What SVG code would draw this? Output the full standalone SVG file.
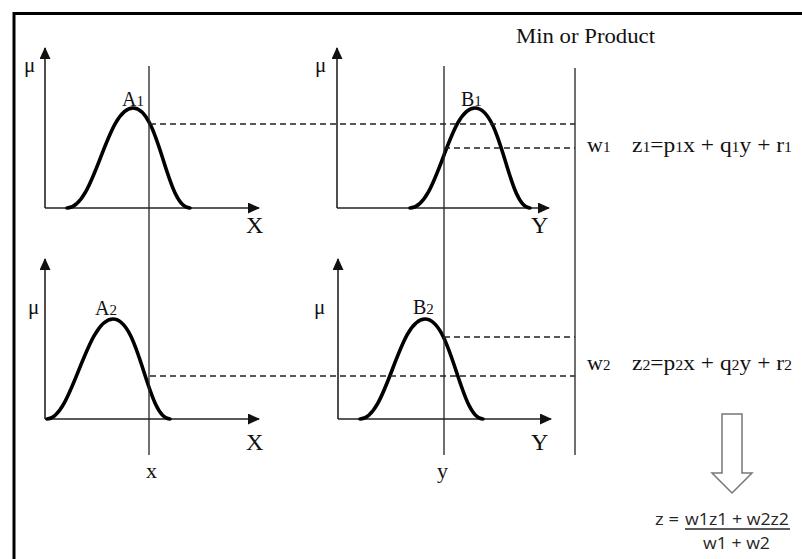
<svg xmlns="http://www.w3.org/2000/svg" width="802" height="559" viewBox="0 0 802 559">
<defs>
<style>
.frame{fill:none;stroke:#000;stroke-width:3}
.axis{fill:none;stroke:#222;stroke-width:1.6}
.curve{fill:none;stroke:#000;stroke-width:3.6;stroke-linecap:round}
.vline{fill:none;stroke:#222;stroke-width:1.3}
.dash{fill:none;stroke:#222;stroke-width:1.4;stroke-dasharray:6,4}
.serif{font-family:"Liberation Serif","Times New Roman",serif;fill:#111}
.sans{font-family:"Open Sans","Liberation Sans",sans-serif;fill:#262626}
</style>
<marker id="ah" viewBox="0 0 12 11" refX="11" refY="5.5" markerWidth="12" markerHeight="11" markerUnits="userSpaceOnUse" orient="auto">
<path d="M0,0 L12,5.5 L0,11 Z" fill="#111"/>
</marker>
</defs>
<rect x="0" y="0" width="802" height="559" fill="#fff"/>
<path class="frame" d="M14,559 L14,13.5 L802,13.5"/>

<g id="graph-A1">
<path class="axis" d="M45,208 L45,48" marker-end="url(#ah)"/>
<path class="axis" d="M45,208 L259,208" marker-end="url(#ah)"/>
<path class="curve" d="M67,208 C95,208 106,108 133,108 C160,108 166,208 190,208"/>
<text class="serif" x="24" y="72" font-size="21">μ</text>
<text class="serif" x="122" y="106" font-size="20">A<tspan font-size="15">1</tspan></text>
<text class="serif" x="246" y="233" font-size="24">X</text>
</g>

<g id="graph-B1">
<path class="axis" d="M337,208 L337,48" marker-end="url(#ah)"/>
<path class="axis" d="M337,208 L549,208" marker-end="url(#ah)"/>
<path class="curve" d="M410,208 C438,208 448,108 475,108 C502,108 508,208 530,208"/>
<text class="serif" x="315" y="72" font-size="21">μ</text>
<text class="serif" x="461" y="106" font-size="20">B<tspan font-size="15">1</tspan></text>
<text class="serif" x="531" y="233" font-size="24">Y</text>
</g>

<g id="graph-A2">
<path class="axis" d="M45,419 L45,259" marker-end="url(#ah)"/>
<path class="axis" d="M45,419 L259,419" marker-end="url(#ah)"/>
<path class="curve" d="M47,419 C72,419 86,319 113,319 C140,319 147,419 170,419"/>
<text class="serif" x="28" y="314" font-size="21">μ</text>
<text class="serif" x="95" y="315" font-size="20">A<tspan font-size="15">2</tspan></text>
<text class="serif" x="246" y="450" font-size="24">X</text>
<text class="serif" x="146" y="478" font-size="22">x</text>
</g>

<g id="graph-B2">
<path class="axis" d="M338,419 L338,259" marker-end="url(#ah)"/>
<path class="axis" d="M338,419 L551,419" marker-end="url(#ah)"/>
<path class="curve" d="M360,419 C387,419 398,319 425,319 C452,319 460,419 483,419"/>
<text class="serif" x="314" y="314" font-size="21">μ</text>
<text class="serif" x="413" y="314" font-size="20">B<tspan font-size="15">2</tspan></text>
<text class="serif" x="531" y="450" font-size="24">Y</text>
<text class="serif" x="437" y="478" font-size="22">y</text>
</g>

<g id="connectors">
<path class="vline" d="M149,66 L149,455"/>
<path class="vline" d="M444,66 L444,455"/>
<path class="vline" d="M575,68 L575,455"/>
<path class="dash" d="M150,124 L575,124"/>
<path class="dash" d="M444,148 L575,148"/>
<path class="dash" d="M150,376 L575,376"/>
<path class="dash" d="M444,337 L575,337"/>
</g>

<g id="label-min">
<text class="serif" x="516" y="43" font-size="22" textLength="139" lengthAdjust="spacingAndGlyphs">Min or Product</text>
</g>

<g id="rule-1">
<text class="serif" x="587" y="152" font-size="22">w<tspan font-size="15">1</tspan></text>
<text class="serif" x="632" y="152" font-size="22" textLength="160" lengthAdjust="spacingAndGlyphs">z<tspan font-size="15">1</tspan>=p<tspan font-size="15">1</tspan>x + q<tspan font-size="15">1</tspan>y + r<tspan font-size="15">1</tspan></text>
</g>

<g id="rule-2">
<text class="serif" x="587" y="370" font-size="22">w<tspan font-size="15">2</tspan></text>
<text class="serif" x="632" y="370" font-size="22" textLength="160" lengthAdjust="spacingAndGlyphs">z<tspan font-size="15">2</tspan>=p<tspan font-size="15">2</tspan>x + q<tspan font-size="15">2</tspan>y + r<tspan font-size="15">2</tspan></text>
</g>

<g id="block-arrow">
<path d="M722,414 L742,414 L742,473 L752,473 L732,493 L712,473 L722,473 Z" fill="#fff" stroke="#777" stroke-width="1.5"/>
</g>

<g id="formula">
<text class="sans" x="655" y="525" font-size="17" textLength="24" lengthAdjust="spacingAndGlyphs">z =</text>
<text class="sans" x="685" y="525" font-size="17" textLength="104" lengthAdjust="spacingAndGlyphs">w1z1 + w2z2</text>
<path d="M685,529 L790,529" stroke="#262626" stroke-width="1.4"/>
<text class="sans" x="703" y="549" font-size="17" textLength="67" lengthAdjust="spacingAndGlyphs">w1 + w2</text>
</g>
</svg>
